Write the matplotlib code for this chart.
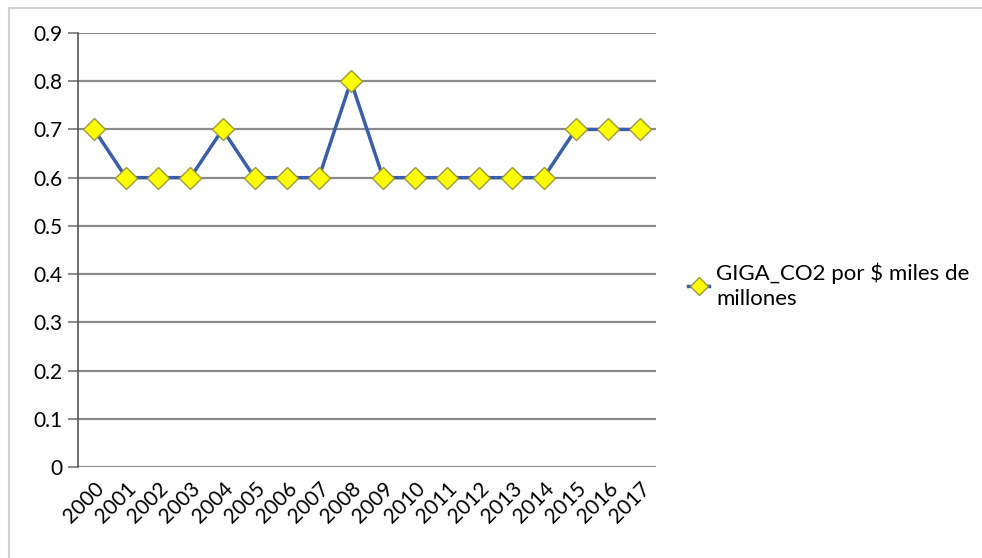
import matplotlib.pyplot as plt
from matplotlib.lines import Line2D

# Data
years = [str(y) for y in range(2000, 2018)]
values = [0.7, 0.6, 0.6, 0.6, 0.7, 0.6, 0.6, 0.6, 0.8,
          0.6, 0.6, 0.6, 0.6, 0.6, 0.6, 0.7, 0.7, 0.7]
series_label = "GIGA_CO2 por $ miles de\nmillones"
yticks = [0, 0.1, 0.2, 0.3, 0.4, 0.5, 0.6, 0.7, 0.8, 0.9]

plt.rcParams['font.family'] = ['Lato', 'DejaVu Sans']

fig = plt.figure(figsize=(9.82, 5.58), dpi=100)
ax = fig.add_axes([78 / 982, 91 / 558, 578 / 982, 434 / 558])

# outer chart border (only top and left edges show in the reference)
bx, by = 9 / 982, 1 - 8 / 558
fig.lines.append(Line2D([bx, bx, 1.0], [0.0, by, by], transform=fig.transFigure,
                        color='#d0d0d0', linewidth=1.5))

x = list(range(len(years)))
ax.plot(x, values, color='#3a5ea8', linewidth=2.5, marker='D',
        markersize=11, markerfacecolor='#ffff00', markeredgecolor='#9a9a40',
        markeredgewidth=1, label=series_label, zorder=3)

ax.set_xlim(-0.5, len(years) - 0.5)
ax.set_ylim(0, 0.9)
ax.set_yticks(yticks)
ax.set_yticklabels([f"{t:g}" for t in yticks], fontsize=15)
ax.set_xticks(x)
ax.set_xticklabels(years, rotation=45, ha='right', rotation_mode='anchor',
                   fontsize=15)
ax.tick_params(axis='x', length=0, pad=8)
ax.tick_params(axis='y', length=7.5, width=1.2, color='#777777', pad=4)

for t in yticks:
    ax.axhline(t, color='#8a8a8a', linewidth=1.6, zorder=1)

for s in ['top', 'right', 'bottom']:
    ax.spines[s].set_visible(False)
ax.spines['left'].set_color('#555555')
ax.spines['left'].set_linewidth(1.2)

leg = fig.legend(loc='center left', bbox_to_anchor=(677 / 982, 1 - 286 / 558),
                 frameon=False, fontsize=16, handlelength=0.95,
                 handletextpad=0.3, borderpad=0, markerscale=0.8)
for txt in leg.get_texts():
    txt.set_linespacing(1.3)

fig.savefig('out.png', dpi=100)
